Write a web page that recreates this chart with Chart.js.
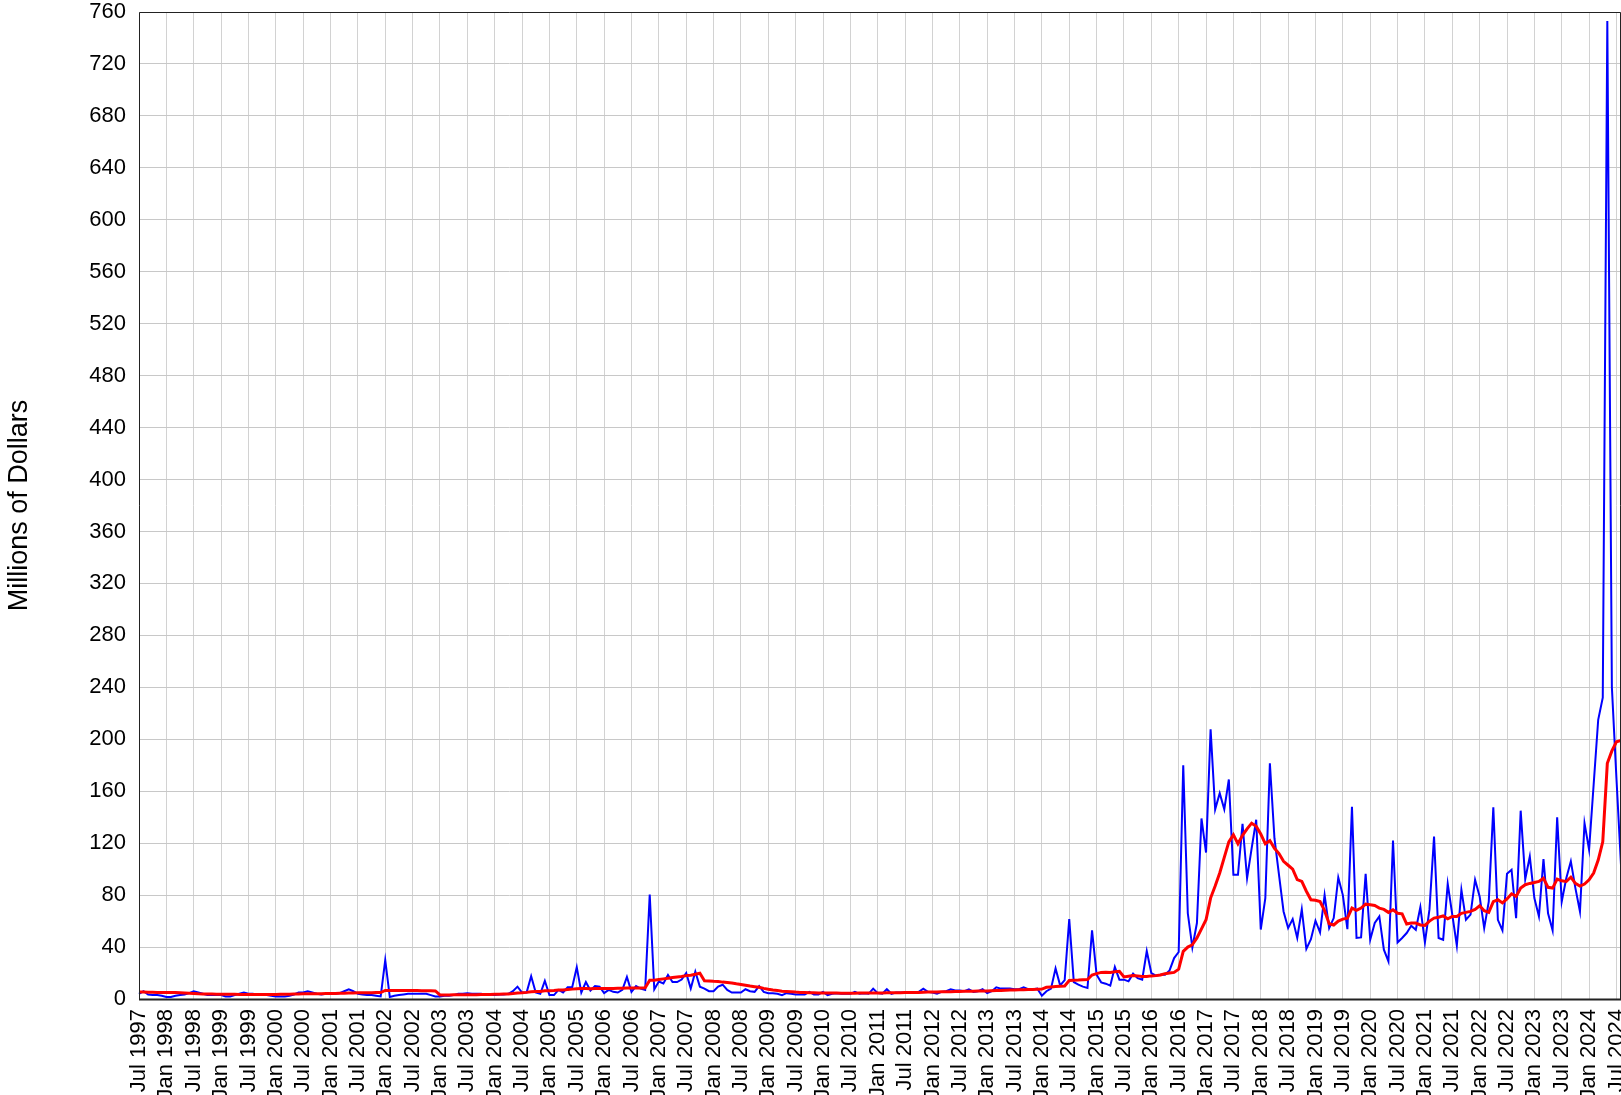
<!DOCTYPE html>
<html><head><meta charset="utf-8">
<script src="https://cdn.jsdelivr.net/npm/chart.js@4.4.1/dist/chart.umd.min.js"></script>
<style>html,body{margin:0;padding:0;background:#fff;overflow:hidden}canvas{display:block}</style>
</head><body>
<canvas id="c" width="1621" height="1095"></canvas>
<script>
// First month of the series: July 1997
const startYear = 1997;
const startMonthIndex = 6;
const monthNames = ['Jan','Feb','Mar','Apr','May','Jun','Jul','Aug','Sep','Oct','Nov','Dec'];
const labelledMonths = ['Jan','Jul'];

// Monthly values (millions of dollars), Jul 1997 .. Aug 2024
const monthlyValues = [
  4, 6, 3.5, 3, 3, 2.5, 1.5, 1.5, 2.5, 3, 3.5, 4.5,
  6, 5, 4, 3, 3, 3, 3, 2, 2, 3, 4, 5,
  4, 4, 3, 3, 3, 2.5, 2, 2, 2, 2.5, 3.5, 5,
  5, 6, 5, 4, 3.5, 4, 4, 4, 4.5, 6, 7.5, 6,
  4, 3.5, 3, 3, 2.5, 2, 30, 1.5, 2.5, 3, 3.5, 4,
  4, 4, 4, 4, 3, 2, 2, 2.5, 2.5, 3, 4, 4,
  4.5, 4, 4, 4, 3.5, 3.5, 3, 3.5, 3.5, 4, 6, 9.5,
  5, 5, 17.5, 5, 4, 14, 3, 3, 7, 5, 9, 9,
  24.5, 5, 13, 6.5, 10, 9.5, 4.5, 7, 5.5, 5, 7, 17,
  5.5, 10, 8, 7, 80.5, 7.5, 13.5, 12, 18.5, 13, 13, 15,
  20, 8, 21, 9.5, 8, 6, 6, 9.5, 11, 7, 5, 5,
  5, 7.5, 6, 5.5, 10, 5.5, 4.5, 4.5, 4, 3, 4.5, 4,
  3.5, 3.5, 3.5, 5.5, 3.5, 3.5, 5.5, 3, 4, 4.5, 4, 4,
  4, 5.5, 4, 4.5, 4, 8, 4.5, 4, 7.5, 4, 5, 5,
  5, 5, 5, 5.5, 8, 5.5, 5, 4, 5.5, 6, 7.5, 6.5,
  6.5, 6, 7.5, 5.5, 6, 7.5, 4.5, 6, 9, 8, 8, 8,
  7.5, 7.5, 9, 7.5, 7.5, 8, 2.5, 6, 8, 23.5, 10.5, 14.5,
  61.5, 13, 11, 9.5, 8.5, 52.8, 18.7, 12.8, 11.8, 10.3, 24.6, 14.9,
  14.9, 13.6, 19.5, 16, 14.9, 36.9, 20, 18, 18.7, 18.7, 22, 31.5,
  36.2, 180, 66, 39.7, 58.5, 139, 112.8, 207.7, 146, 158.5, 146, 169,
  95.6, 95.6, 134.9, 93, 116, 138, 53.5, 77.7, 181.5, 123.8, 95.6, 67.4,
  54.6, 61.5, 47, 69, 38.5, 46, 60.3, 51.3, 80, 54.6, 62.3, 93.6,
  80, 53.8, 148, 47, 47.4, 96.4, 45.6, 58.5, 63.6, 38, 29, 122,
  43.6, 47, 50.8, 56.4, 53.3, 70.8, 43.6, 69, 125, 47, 45.6, 88.7,
  65, 41, 84, 61, 65, 91.8, 79, 54.6, 75, 147.7, 61, 52.8,
  96.4, 99.5, 62.3, 145, 92.3, 109.7, 77.7, 63.6, 107.7, 66, 52.8, 140,
  75, 93, 106, 85.4, 67.4, 135.4, 115, 165, 215, 232, 753, 240,
  170, 103
];

// 12-month moving average
const movingAverage = [
  5.3, 5.3, 5.2, 5.2, 5.1, 5.1, 5, 5, 5, 4.8, 4.6, 4.4,
  4.2, 4, 3.9, 3.8, 3.8, 3.7, 3.7, 3.6, 3.6, 3.6, 3.5, 3.5,
  3.5, 3.5, 3.5, 3.5, 3.5, 3.5, 3.5, 3.6, 3.6, 3.7, 3.8, 3.9,
  4, 4, 4.1, 4.1, 4.1, 4.2, 4.2, 4.3, 4.4, 4.5, 4.6, 4.7,
  4.8, 4.8, 4.9, 4.9, 5, 5, 6.6, 6.6, 6.5, 6.5, 6.5, 6.5,
  6.5, 6.5, 6.4, 6.4, 6.3, 6.2, 3.1, 3.1, 3.1, 3.2, 3.2, 3.3,
  3.3, 3.3, 3.3, 3.4, 3.5, 3.5, 3.6, 3.7, 3.8, 3.9, 4.2, 4.6,
  4.8, 5.1, 5.6, 5.7, 5.8, 6.3, 6.4, 6.5, 6.9, 7, 7.3, 7.6,
  7.9, 8, 8, 7.9, 8, 8, 8.1, 8.1, 8.1, 8.2, 8.3, 8.5,
  8.4, 8.5, 8.5, 8.6, 14.5, 14.5, 15, 15.5, 16, 16.5, 17, 17.3,
  18, 18.3, 19, 19.8, 14, 13.9, 13.6, 13.4, 13, 12.7, 12.3, 11.7,
  11.2, 10.6, 10, 9.5, 9, 8.2, 7.5, 6.9, 6.5, 6, 5.8, 5.6,
  5.3, 5.1, 5, 4.9, 4.8, 4.7, 4.7, 4.6, 4.6, 4.6, 4.5, 4.5,
  4.5, 4.5, 4.6, 4.6, 4.6, 4.7, 4.7, 4.7, 4.8, 4.8, 4.9, 4.9,
  5, 5, 5.1, 5.1, 5.2, 5.3, 5.3, 5.4, 5.5, 5.5, 5.6, 5.7,
  5.8, 5.9, 6, 6, 6.1, 6.2, 6.2, 6.4, 6.5, 6.6, 6.8, 6.9,
  7, 7.1, 7.2, 7.3, 7.4, 7.5, 7.6, 9, 9.3, 9.6, 9.8, 10,
  14.3, 14.5, 14.6, 14.8, 15, 18.5, 19.5, 20.5, 20.6, 20.5, 21, 21.3,
  17, 17.5, 18, 17.8, 17.4, 17.4, 17.8, 18, 18.5, 19.5, 20, 20.5,
  23, 36.7, 40, 41.8, 47, 54, 61, 77.7, 87, 97, 109, 121,
  126.4, 119.5, 126, 131, 135.4, 133, 127, 119.5, 122, 116, 112, 106,
  103, 100, 92, 90.5, 83, 76.4, 76, 75, 68, 58, 57, 60,
  61.5, 62.3, 70, 68.2, 70, 73, 72.5, 72, 70, 69, 66.7, 68.7,
  66, 65.6, 57.7, 58.5, 58.5, 57, 56.7, 60, 62.3, 63, 64, 61.8,
  63.6, 63.6, 66, 66.7, 67.5, 69, 71.8, 68, 66.7, 75, 76.4, 74,
  77, 81, 79, 85.4, 88, 89, 89.7, 90.5, 93, 86, 85.4, 92.3,
  91, 90.5, 93.8, 89, 87, 88.5, 91.8, 97, 107, 121, 181.5, 191,
  198, 199
];

const yMin = 0, yMax = 760, yStep = 40;
const yTitle = 'Millions of Dollars';

const monthLabels = monthlyValues.map((_, i) => {
  const k = startMonthIndex + i;
  return monthNames[k % 12] + ' ' + (startYear + Math.floor(k / 12));
});
const isLabelled = (i) => i >= 0 && i < monthLabels.length && labelledMonths.includes(monthLabels[i].slice(0, 3));

const FONT = "Arial, 'Liberation Sans', Helvetica, sans-serif";

const framePlugin = {
  id: 'frame',
  afterDatasetsDraw(chart) {
    const { ctx, chartArea: a } = chart;
    ctx.save();
    ctx.strokeStyle = '#222';
    ctx.lineWidth = 1;
    ctx.beginPath();
    ctx.moveTo(a.left + 0.5, a.bottom);
    ctx.lineTo(a.left + 0.5, a.top + 0.5);
    ctx.lineTo(a.right - 0.5, a.top + 0.5);
    ctx.lineTo(a.right - 0.5, a.bottom);
    ctx.stroke();
    ctx.lineWidth = 2;
    ctx.beginPath();
    ctx.moveTo(a.left, a.bottom + 0.5);
    ctx.lineTo(a.right, a.bottom + 0.5);
    ctx.stroke();
    ctx.restore();
  }
};

new Chart(document.getElementById('c'), {
  type: 'line',
  data: {
    labels: monthLabels,
    datasets: [
      { label: '12-month average', data: movingAverage, borderColor: '#ff0000', borderWidth: 3, pointRadius: 0, tension: 0, fill: false },
      { label: 'Monthly', data: monthlyValues, borderColor: '#0000ff', borderWidth: 2, pointRadius: 0, tension: 0, fill: false }
    ]
  },
  options: {
    responsive: false,
    animation: false,
    devicePixelRatio: 1,
    layout: { padding: 0 },
    plugins: { legend: { display: false }, tooltip: { enabled: false } },
    scales: {
      x: {
        type: 'category',
        offset: false,
        border: { display: false },
        grid: {
          color: (c) => isLabelled(c.index) ? '#d2d2d2' : 'rgba(0,0,0,0)',
          lineWidth: 1, drawTicks: false
        },
        ticks: {
          autoSkip: false, maxRotation: 90, minRotation: 90, padding: 10,
          color: '#000', font: { family: FONT, size: 22 },
          callback: (v, i) => isLabelled(i) ? monthLabels[i] : ''
        },
        afterFit: (s) => { s.height = 96; s.paddingLeft = 0; s.paddingRight = 0; }
      },
      y: {
        min: yMin, max: yMax,
        border: { display: false },
        grid: { color: '#c8c8c8', lineWidth: 1, drawTicks: false },
        ticks: { stepSize: yStep, padding: 13, color: '#000', font: { family: FONT, size: 22 } },
        title: { display: true, text: yTitle, color: '#000', font: { family: FONT, size: 27 }, padding: { top: 3, bottom: 0 } },
        afterFit: (s) => { s.width = 139; s.paddingTop = 12; s.paddingBottom = 0; }
      }
    }
  },
  plugins: [framePlugin]
});
</script>
</body></html>
